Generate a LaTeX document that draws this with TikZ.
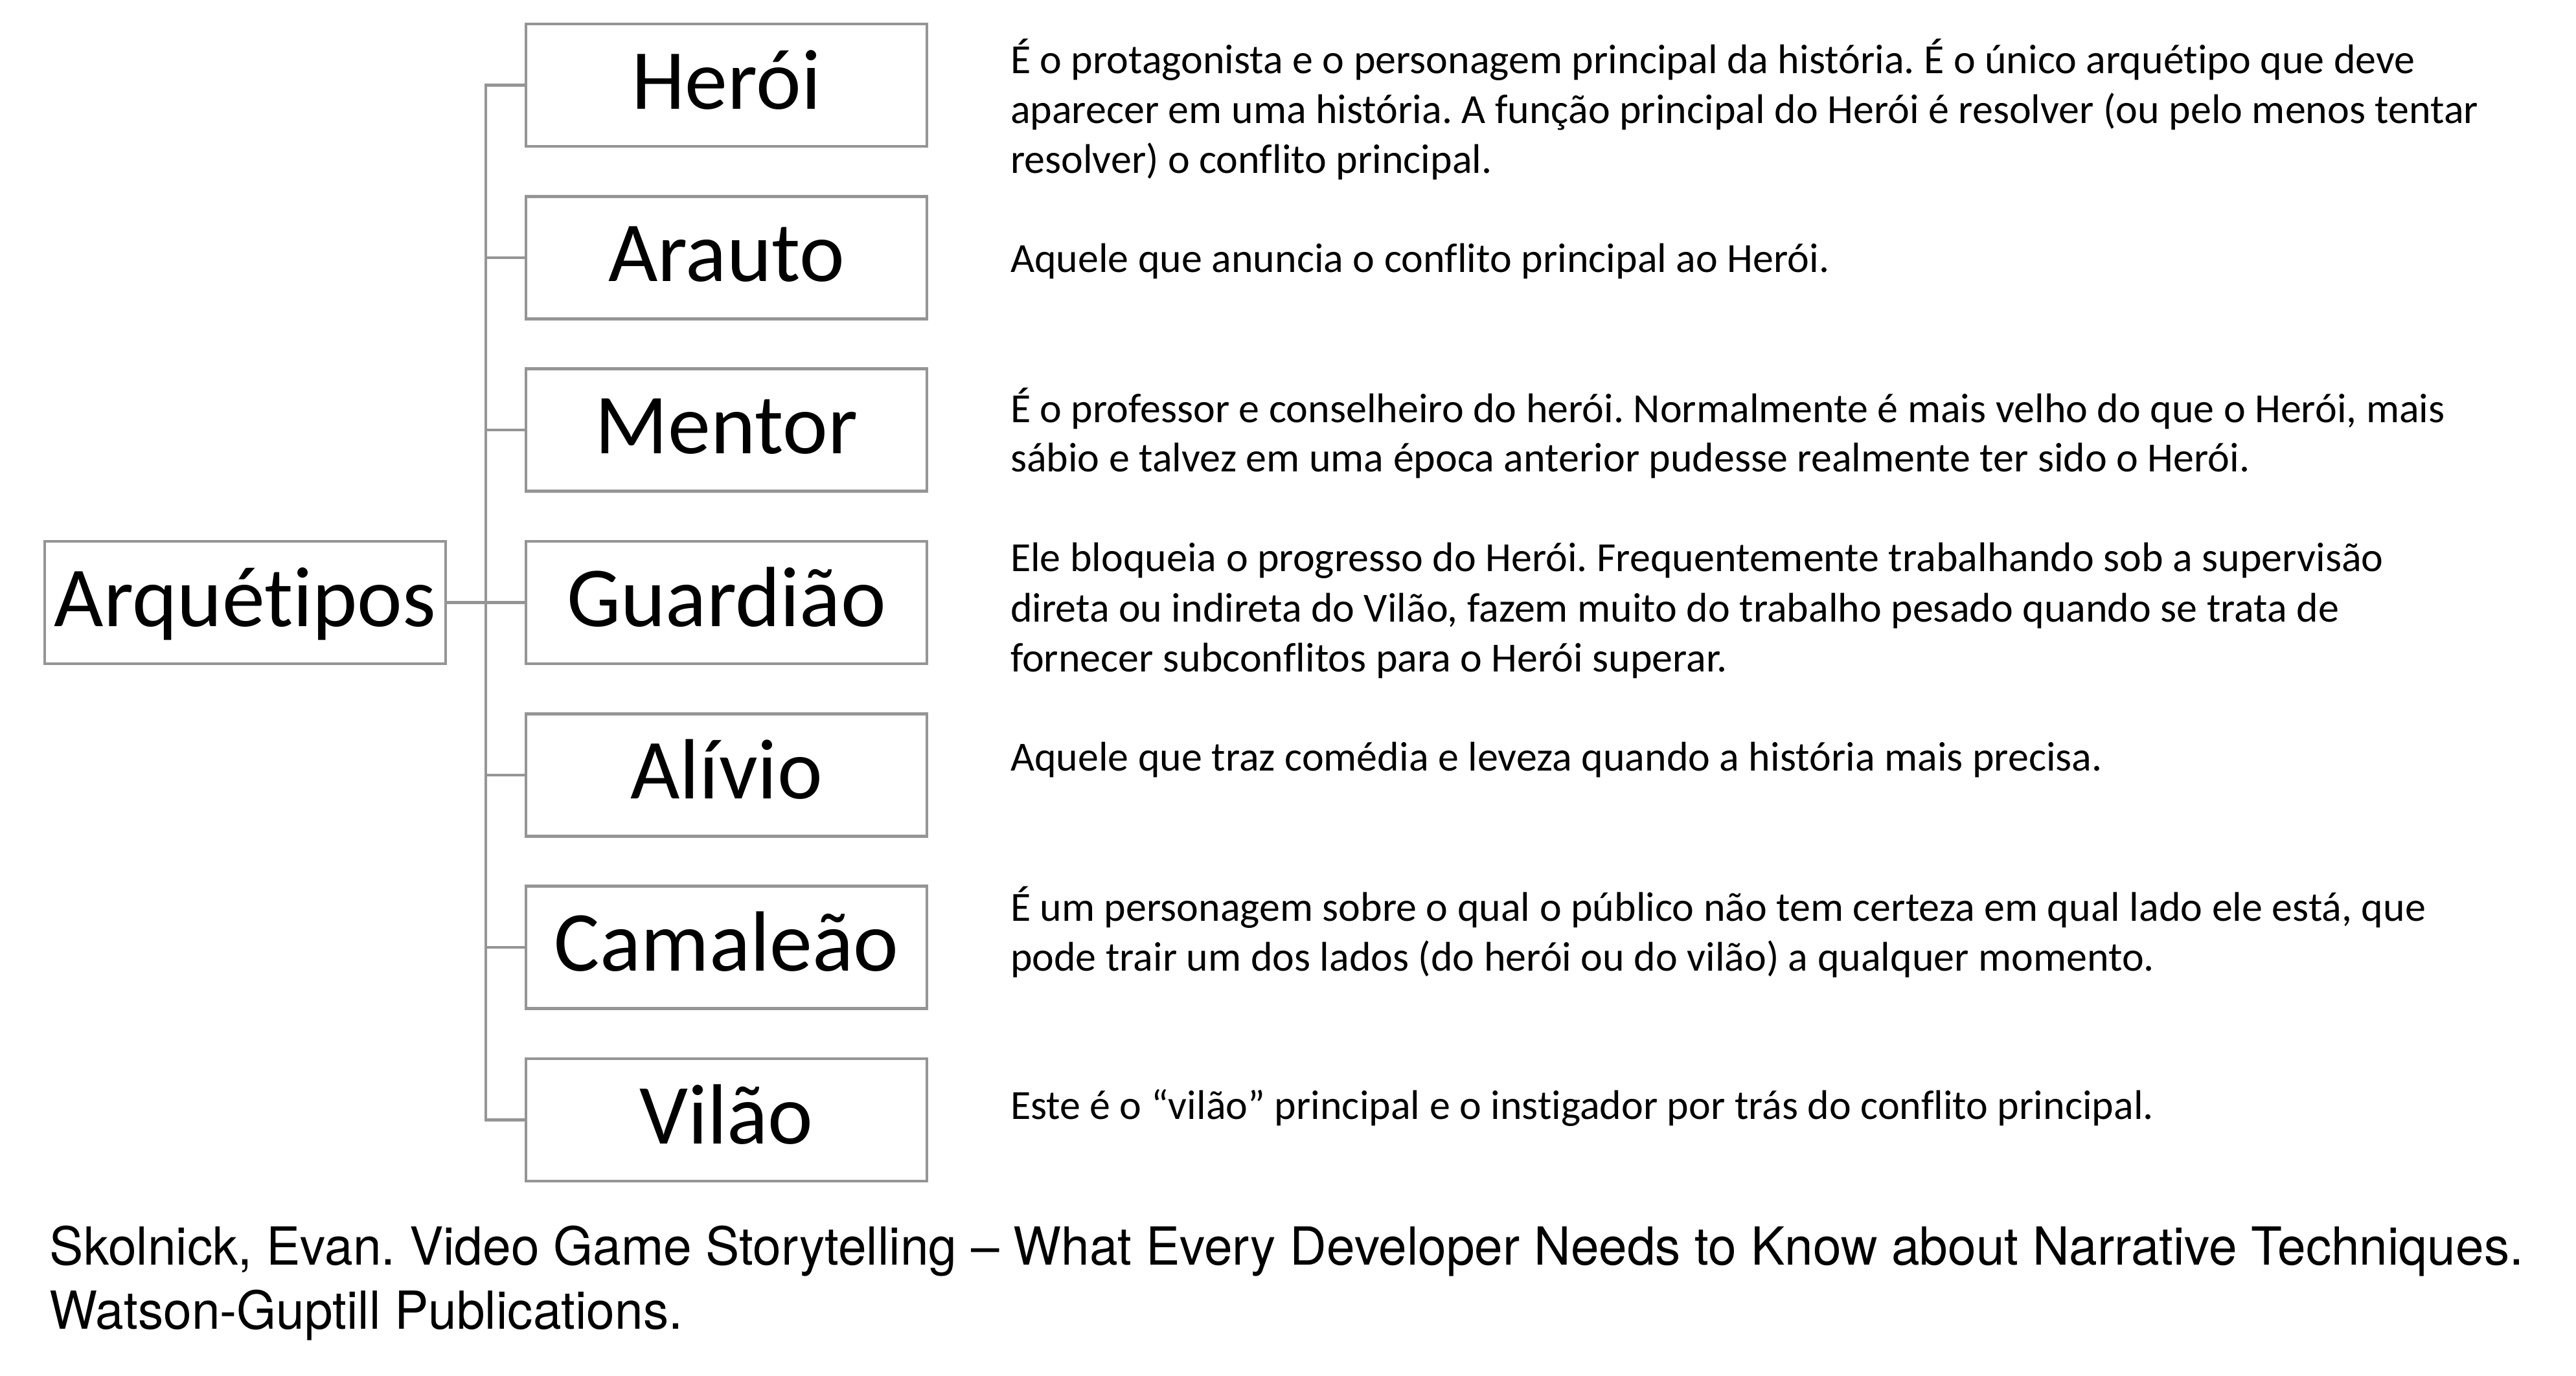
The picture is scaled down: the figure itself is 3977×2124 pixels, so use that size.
\documentclass[tikz,border=0pt]{standalone}
\usepackage{fontspec}
\usepackage{graphicx}
\setmainfont{Carlito}[Ligatures={TeX,NoCommon}]
\newfontfamily\citefont{TeX Gyre Heros}
\definecolor{linegray}{RGB}{149,149,149}
\newsavebox\citeboxA
\newsavebox\citeboxB
\newlength\citewd
\tikzset{
  archbox/.style={draw=linegray, line width=0.9pt, minimum width=123.8pt, minimum height=37.8pt,
    inner sep=0pt, font=\fontsize{26.4}{31}\selectfont, text height=14.6pt, text depth=0pt},
  desc/.style={anchor=base west, inner sep=0pt, font=\fontsize{12.8}{15.4}\selectfont},
  citeline/.style={anchor=base west, inner sep=0pt},
  conn/.style={draw=linegray, line width=0.9pt}
}
\begin{document}
\frenchspacing
\sbox\citeboxA{\citefont\fontsize{16.2}{19.8}\selectfont Skolnick, Evan. Video Game Storytelling – What Every Developer Needs to Know about Narrative Techniques.}%
\sbox\citeboxB{\citefont\fontsize{16.2}{19.8}\selectfont Watson-Guptill Publications.}%
\setlength\citewd{\wd\citeboxA}%
\pgfmathsetmacro\citesx{763.8/\citewd}%
\begin{tikzpicture}[x=0.2pt,y=-0.2pt]
\useasboundingbox (0,0) rectangle (3977,2124);
% boxes
\node[archbox] (arq) at (378.5,930.5) {Arquétipos};
\node[archbox] (heroi) at (1121.5,131.5) {Herói};
\node[archbox] (arauto) at (1121.5,397.8) {Arauto};
\node[archbox] (mentor) at (1121.5,664.2) {Mentor};
\node[archbox] (guardiao) at (1121.5,930.5) {Guardião};
\node[archbox] (alivio) at (1121.5,1196.8) {Alívio};
\node[archbox] (camaleao) at (1121.5,1463.2) {Camaleão};
\node[archbox] (vilao) at (1121.5,1729.5) {Vilão};
% connectors
\coordinate (trunk) at (750,930.5);
\draw[conn] (arq.east) -- (guardiao.west);
\draw[conn] (heroi.west) -| (trunk |- vilao.west) -- (vilao.west);
\draw[conn] (arauto.west) -- (trunk |- arauto.west);
\draw[conn] (mentor.west) -- (trunk |- mentor.west);
\draw[conn] (alivio.west) -- (trunk |- alivio.west);
\draw[conn] (camaleao.west) -- (trunk |- camaleao.west);
% descriptions
\node[desc] (d1a) at (1559,113) {É o protagonista e o personagem principal da história. É o único arquétipo que deve};
\node[desc] (d1b) at (1559,190) {aparecer em uma história. A função principal do Herói é resolver (ou pelo menos tentar};
\node[desc] (d1c) at (1559,267) {resolver) o conflito principal.};
\node[desc] (d2a) at (1559,420) {Aquele que anuncia o conflito principal ao Herói.};
\node[desc] (d3a) at (1559,652) {É o professor e conselheiro do herói. Normalmente é mais velho do que o Herói, mais};
\node[desc] (d3b) at (1559,728) {sábio e talvez em uma época anterior pudesse realmente ter sido o Herói.};
\node[desc] (d4a) at (1559,882) {Ele bloqueia o progresso do Herói. Frequentemente trabalhando sob a supervisão};
\node[desc] (d4b) at (1559,960) {direta ou indireta do Vilão, fazem muito do trabalho pesado quando se trata de};
\node[desc] (d4c) at (1559,1037) {fornecer subconflitos para o Herói superar.};
\node[desc] (d5a) at (1559,1190) {Aquele que traz comédia e leveza quando a história mais precisa.};
\node[desc] (d6a) at (1559,1422) {É um personagem sobre o qual o público não tem certeza em qual lado ele está, que};
\node[desc] (d6b) at (1559,1499) {pode trair um dos lados (do herói ou do vilão) a qualquer momento.};
\node[desc] (d7a) at (1559,1728) {Este é o “vilão” principal e o instigador por trás do conflito principal.};
% citation
\node[citeline] (cite1) at (76,1953) {\scalebox{\citesx}[1]{\usebox\citeboxA}};
\node[citeline] (cite2) at (76,2052) {\scalebox{\citesx}[1]{\usebox\citeboxB}};
\end{tikzpicture}
\end{document}
